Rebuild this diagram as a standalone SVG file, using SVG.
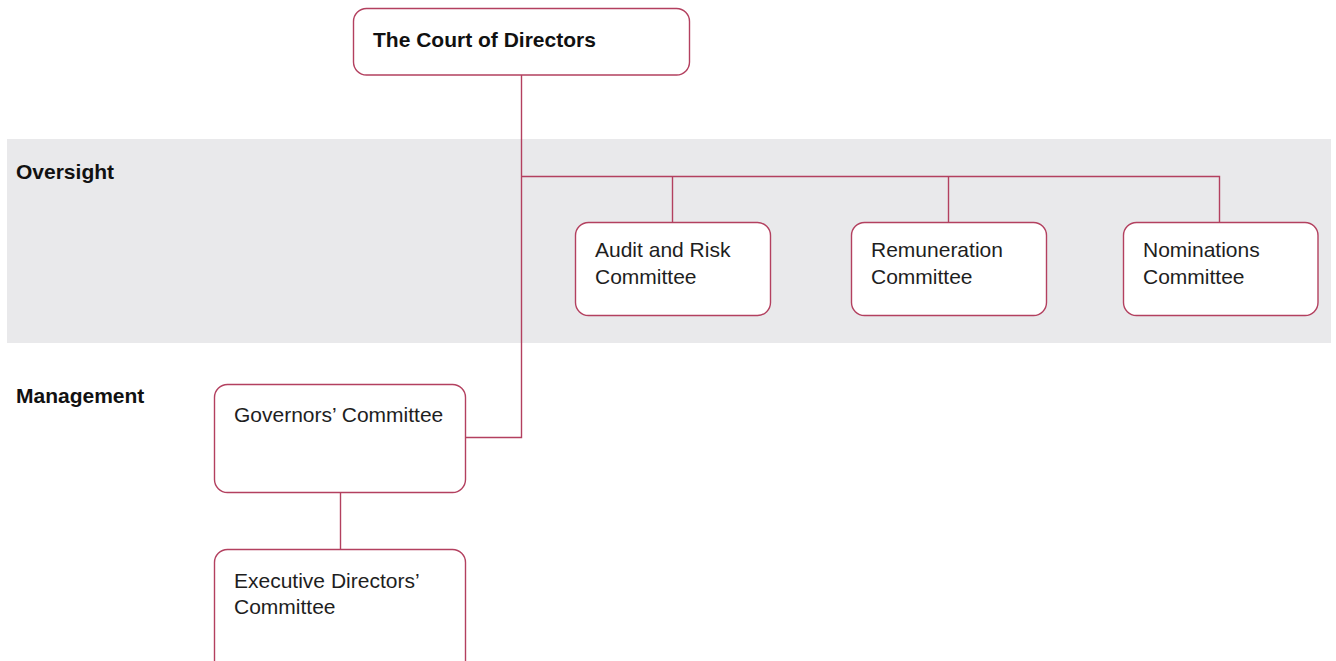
<svg xmlns="http://www.w3.org/2000/svg" width="1336" height="661" viewBox="0 0 1336 661">
  <style>
    .box { fill: #ffffff; stroke: #b3405f; stroke-width: 1.4; }
    .wire { fill: none; stroke: #b3405f; stroke-width: 1.4; }
    .txt { font-family: "Liberation Sans", Arial, sans-serif; font-size: 21px; fill: #1e1e1e; }
    .head { font-family: "Liberation Sans", Arial, sans-serif; font-size: 21px; font-weight: bold; fill: #111111; }
  </style>

  <!-- Oversight band -->
  <rect x="7" y="139" width="1324" height="204" fill="#e9e9eb"/>
  <text class="head" x="16" y="179">Oversight</text>
  <text class="head" x="16" y="403">Management</text>

  <!-- Connectors -->
  <g id="connectors">
    <path class="wire" d="M521.5 75 V437.5 H466"/>
    <path class="wire" d="M521.5 176.5 H1219.5 V222"/>
    <path class="wire" d="M672.5 176.5 V222"/>
    <path class="wire" d="M948.5 176.5 V222"/>
    <path class="wire" d="M340.5 493 V549"/>
  </g>

  <g id="court">
    <rect class="box" x="353.5" y="8.5" width="336" height="66.5" rx="13"/>
    <text class="head" x="373" y="47">The Court of Directors</text>
  </g>

  <g id="audit">
    <rect class="box" x="575.5" y="222.5" width="195" height="93" rx="13"/>
    <text class="txt" x="595" y="257">Audit and Risk</text>
    <text class="txt" x="595" y="284">Committee</text>
  </g>

  <g id="remuneration">
    <rect class="box" x="851.5" y="222.5" width="195" height="93" rx="13"/>
    <text class="txt" x="871" y="257">Remuneration</text>
    <text class="txt" x="871" y="284">Committee</text>
  </g>

  <g id="nominations">
    <rect class="box" x="1123.5" y="222.5" width="194.5" height="93" rx="13"/>
    <text class="txt" x="1143" y="257">Nominations</text>
    <text class="txt" x="1143" y="284">Committee</text>
  </g>

  <g id="governors">
    <rect class="box" x="214.5" y="384.5" width="251" height="108" rx="13"/>
    <text class="txt" x="234" y="422">Governors’ Committee</text>
  </g>

  <g id="executive">
    <rect class="box" x="214.5" y="549.5" width="251" height="130" rx="13"/>
    <text class="txt" x="234" y="588">Executive Directors’</text>
    <text class="txt" x="234" y="614">Committee</text>
  </g>
</svg>
